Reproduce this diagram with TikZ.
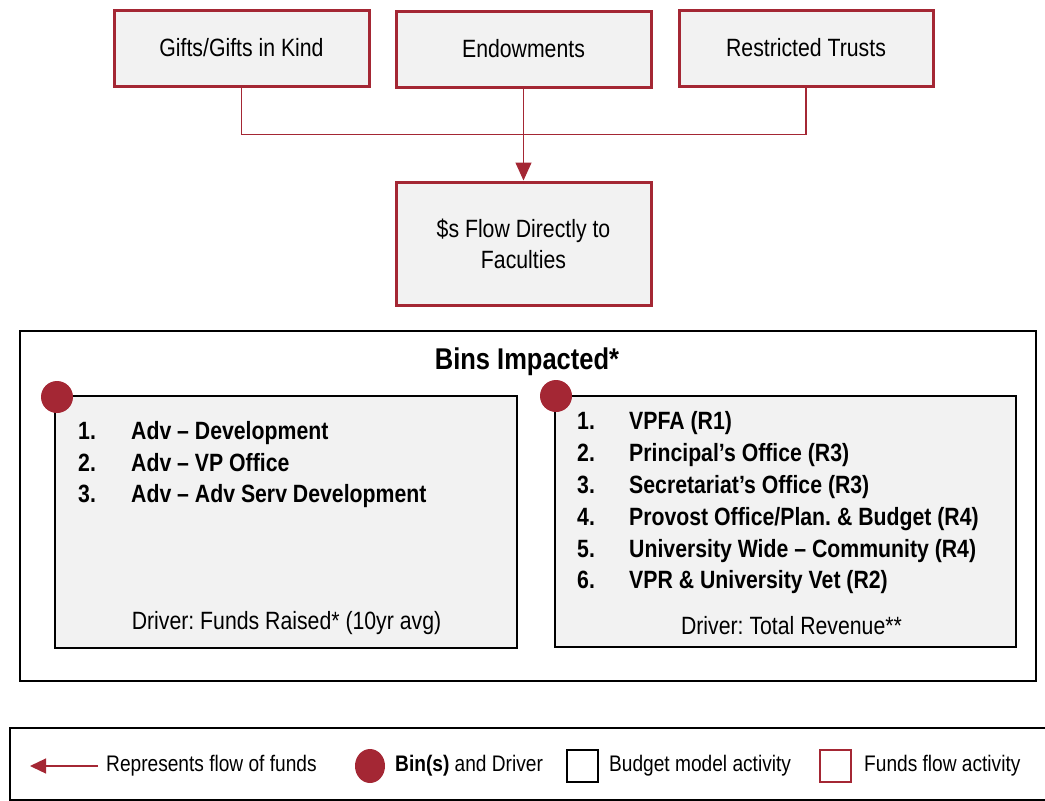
\documentclass[tikz,border=0pt]{standalone}
\usepackage{fontspec}
\setmainfont{Liberation Sans}[FakeStretch=0.85]
\usetikzlibrary{arrows.meta,shapes.geometric}
\frenchspacing
\definecolor{fundred}{RGB}{164,39,52}
\definecolor{boxgray}{RGB}{242,242,242}
\tikzset{
  flowbox/.style={draw=fundred, line width=3pt, fill=boxgray, inner sep=0pt, align=center,
    font=\fontsize{25}{31}\selectfont},
  binbox/.style={draw=black, line width=2.5pt, fill=boxgray, inner sep=0pt},
  outerbox/.style={draw=black, line width=2pt, inner sep=0pt},
  bindot/.style={circle, fill=fundred, inner sep=0pt, minimum size=32pt},
  flowline/.style={draw=fundred, line width=1.3pt},
  itemtxt/.style={anchor=base west, inner sep=0pt, font=\fontsize{25}{30}\selectfont\bfseries},
  drivertxt/.style={inner sep=0pt, font=\fontsize{25}{30}\selectfont},
  legtxt/.style={anchor=west, inner sep=0pt, font=\fontsize{22.5}{27}\selectfont},
}
\begin{document}
\begin{tikzpicture}[x=1pt, y=-1pt]
\useasboundingbox (0,0) rectangle (1045,801);

% sources of funds
\node[flowbox, minimum width=255pt, minimum height=76pt] (gifts) at (241.5,48) {Gifts/Gifts in Kind};
\node[flowbox, minimum width=255pt, minimum height=76pt] (endow) at (523.5,49) {Endowments};
\node[flowbox, minimum width=254pt, minimum height=76pt] (trust) at (806,48) {Restricted Trusts};
\node[flowbox, minimum width=255pt, minimum height=123pt] (fac) at (523.5,243.5) {\$s Flow Directly to\\Faculties};

% connectors
\draw[flowline] (gifts.south) -- ++(0,47) -| (trust.south);
\draw[flowline, -{Triangle[length=18pt, width=16pt]}] (endow.south) -- (fac.north);

% bins impacted
\node[outerbox, minimum width=1016pt, minimum height=350pt] (bins) at (528,506) {};
\node[inner sep=0pt, font=\fontsize{30}{36}\selectfont\bfseries] (title) at (527,362) {Bins Impacted*};

\node[binbox, minimum width=462pt, minimum height=252pt] (left) at (286,522) {};
\node[binbox, minimum width=461pt, minimum height=251pt] (right) at (785.5,521.5) {};
\node[bindot] (dotL) at (57,397) {};
\node[bindot] (dotR) at (556,396) {};

% left list
\foreach \n/\t/\y in {1/{Adv -- Development}/439, 2/{Adv -- VP Office}/471, 3/{Adv -- Adv Serv Development}/502} {
  \node[itemtxt] (ln\n) at (78,\y) {\n.};
  \node[itemtxt] (lt\n) at (131,\y) {\t};
}
\node[drivertxt] (drvL) at (286.5,623) {Driver: Funds Raised* (10yr avg)};

% right list
\foreach \n/\t/\y in {1/{VPFA (R1)}/429, 2/{Principal’s Office (R3)}/461, 3/{Secretariat’s Office (R3)}/493,
                      4/{Provost Office/Plan. \& Budget (R4)}/525, 5/{University Wide -- Community (R4)}/557,
                      6/{VPR \& University Vet (R2)}/588} {
  \node[itemtxt] (rn\n) at (577,\y) {\n.};
  \node[itemtxt] (rt\n) at (629,\y) {\t};
}
\node[drivertxt] (drvR) at (791.5,626) {Driver: Total Revenue**};

% legend
\node[outerbox, minimum width=1040pt, minimum height=72pt] (legend) at (530,764) {};
\coordinate (legA) at (98,766);
\coordinate (legB) at (30,766);
\draw[flowline, -{Triangle[length=16pt, width=15pt]}] (legA) -- (legB);
\node[legtxt] (lt1) at (106,766) {Represents flow of funds};
\node[ellipse, fill=fundred, inner sep=0pt, minimum width=30pt, minimum height=34pt] (legdot) at (370,766) {};
\node[legtxt] (lt2) at (395,766) {\textbf{Bin(s)} and Driver};
\node[draw=black, line width=2pt, inner sep=0pt, minimum width=31pt, minimum height=32pt] (legblk) at (582.5,766) {};
\node[legtxt] (lt3) at (609,766) {Budget model activity};
\node[draw=fundred, line width=2pt, inner sep=0pt, minimum width=31pt, minimum height=32pt] (legred) at (835.5,766) {};
\node[legtxt] (lt4) at (864,766) {Funds flow activity};
\end{tikzpicture}
\end{document}
